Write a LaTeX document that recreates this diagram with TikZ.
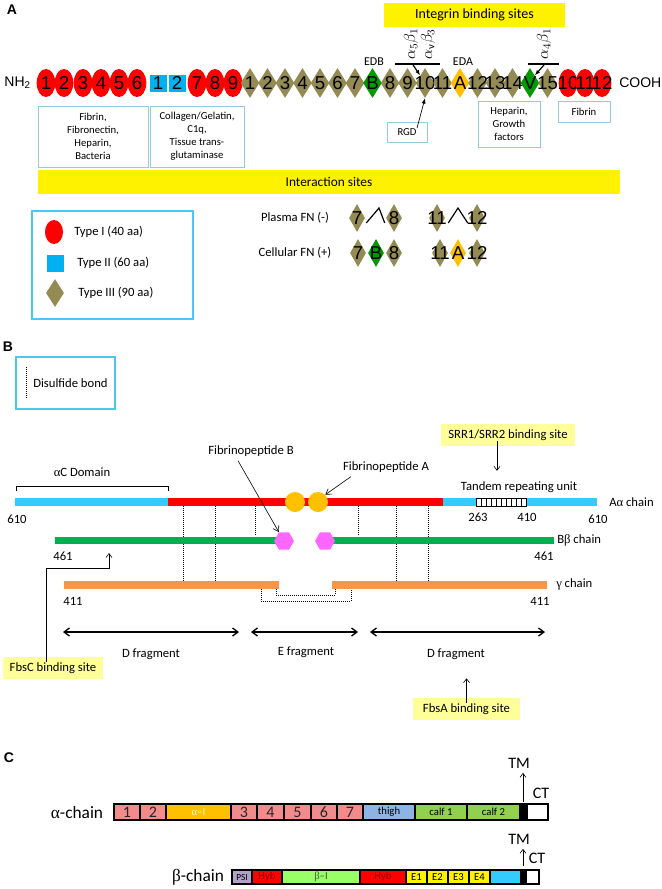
\documentclass[tikz,border=0pt]{standalone}
\usepackage{fontspec}
\setmainfont{Carlito}
\newfontfamily\arialf{Liberation Sans}
\newfontfamily\symf{Liberation Serif}
\usetikzlibrary{shapes.geometric,arrows.meta,backgrounds,calc}
\newcommand\fsz[2]{\fontsize{#1}{#2}\selectfont}
\definecolor{fnred}{RGB}{255,0,0}
\definecolor{fnblue}{RGB}{0,176,240}
\definecolor{fnkhaki}{RGB}{148,138,84}
\definecolor{fngreen}{RGB}{0,153,0}
\definecolor{fnorange}{RGB}{255,192,0}
\definecolor{boxblue}{RGB}{146,205,220}
\definecolor{legblue}{RGB}{75,200,240}
\definecolor{paleyellow}{RGB}{255,255,153}
\definecolor{chaincyan}{RGB}{51,204,255}
\definecolor{chaingreen}{RGB}{0,176,80}
\definecolor{chainorange}{RGB}{247,150,70}
\definecolor{hexpink}{RGB}{255,102,255}
\definecolor{dompink}{RGB}{242,140,140}
\definecolor{thighblue}{RGB}{141,180,226}
\definecolor{calfgreen}{RGB}{146,208,80}
\definecolor{psilav}{RGB}{177,160,199}
\definecolor{bilime}{RGB}{153,255,102}
\begin{document}
\begin{tikzpicture}[x=0.75pt, y=-0.75pt,
    t1/.style={ellipse, fill=fnred, inner sep=0pt, minimum width=14pt, minimum height=21pt},
    t2/.style={rectangle, fill=fnblue, inner sep=0pt, minimum size=12.75pt},
    t3/.style={diamond, fill=fnkhaki, inner sep=0pt, minimum width=14pt, minimum height=22.5pt},
    t3s/.style={t3, minimum width=12pt, minimum height=21pt},
    num/.style={font=\arialf\fsz{14}{14}, inner sep=0pt},
    lbox/.style={draw=boxblue, line width=0.6pt},
    legbox/.style={draw=legblue, line width=1.1pt},
    btxt/.style={font=\fsz{8}{9.75}, align=center, inner sep=0pt, text=black},
    ltxt/.style={font=\fsz{9.5}{11}, inner sep=0pt, text=black},
    lab/.style={font=\arialf\bfseries\fsz{10.5}{12}, inner sep=0pt},
    ptr/.style={-{Latex[length=4pt,width=3pt]}, line width=0.5pt},
    thinptr/.style={-{Straight Barb[length=3pt,width=4.5pt]}, line width=0.45pt},
    frag/.style={{Straight Barb[length=4pt,width=6pt]}-{Straight Barb[length=4pt,width=6pt]}, line width=1pt},
    sbond/.style={densely dotted, line width=0.5pt},
    dom/.style={draw=black, line width=0.8pt},
    cnum/.style={font=\fsz{12}{12}, text=black!85, inner sep=0pt},
    csm/.style={font=\fsz{8}{9}, inner sep=0pt, text=black}]
\useasboundingbox (0,0) rectangle (661,889);
\fill[white] (0,0) rectangle (661,889);

% A
\node[lab] (pa) at (12,10) {A};
\node[font=\arialf\fsz{10.5}{12}, anchor=east, inner sep=0pt] (nh) at (31,83) {NH\textsubscript{2}};
\node[font=\arialf\fsz{10.5}{12}, anchor=west, inner sep=0pt] (cooh) at (619,83) {COOH};
\node[t1, label={[num]center:1}] (e1) at (46,83) {};
\node[t1, label={[num]center:2}] (e2) at (64,83) {};
\node[t1, label={[num]center:3}] (e3) at (83,83) {};
\node[t1, label={[num]center:4}] (e4) at (101,83) {};
\node[t1, label={[num]center:5}] (e5) at (119,83) {};
\node[t1, label={[num]center:6}] (e6) at (137,83) {};
\node[t2, label={[num]center:1}] (s1) at (158,83) {};
\node[t2, label={[num]center:2}] (s2) at (177,83) {};
\node[t1, label={[num]center:7}] (e7) at (197,83) {};
\node[t1, label={[num]center:8}] (e8) at (215,83) {};
\node[t1, label={[num]center:9}] (e9) at (233,83) {};
\node[t3, label={[num]center:1}] (d1) at (250,83) {};
\node[t3, label={[num]center:2}] (d2) at (267.5,83) {};
\node[t3, label={[num]center:3}] (d3) at (285,83) {};
\node[t3, label={[num]center:4}] (d4) at (302.5,83) {};
\node[t3, label={[num]center:5}] (d5) at (320,83) {};
\node[t3, label={[num]center:6}] (d6) at (337.5,83) {};
\node[t3, label={[num]center:7}] (d7) at (355,83) {};
\node[t3, fill=fngreen, label={[num]center:B}] (dB) at (372.5,83) {};
\node[t3, label={[num]center:8}] (d8) at (390,83) {};
\node[t3, label={[num]center:9}] (d9) at (407.5,83) {};
\node[t3, label={[num]center:10}] (d10) at (425,83) {};
\node[t3, label={[num]center:11}] (d11) at (442.5,83) {};
\node[t3, fill=fnorange, label={[num]center:A}] (dA) at (460,83) {};
\node[t3, label={[num]center:12}] (d12) at (477.5,83) {};
\node[t3, label={[num]center:13}] (d13) at (495,83) {};
\node[t3, label={[num]center:14}] (d14) at (512.5,83) {};
\node[t3, fill=fngreen, label={[num]center:V}] (dV) at (530,83) {};
\node[t3, label={[num]center:15}] (d15) at (547.5,83) {};
\node[t1, label={[num]center:10}] (e10) at (568,83) {};
\node[t1, label={[num]center:11}] (e11) at (585,83) {};
\node[t1, label={[num]center:12}] (e12) at (602,83) {};
\begin{scope}[on background layer]
  \draw[line width=0.6pt] (nh.east) -- (cooh.west);
\end{scope}

\fill[yellow] (384,3) rectangle node[font=\fsz{10.5}{12}, text=black] (ibs) {Integrin binding sites} (565,27);
\node[font=\fsz{9}{10}] (edb) at (374,62) {EDB};
\node[font=\fsz{9}{10}] (eda) at (463,62) {EDA};
\node[rotate=90, font=\fsz{12}{12}, inner sep=0pt] (ab1) at (411,44) {$\alpha_5\beta_1$};
\node[rotate=90, font=\fsz{12}{12}, inner sep=0pt] (ab2) at (428,44) {$\alpha_{\mathrm{v}}\beta_3$};
\node[rotate=90, font=\fsz{12}{12}, inner sep=0pt] (ab3) at (544,44) {$\alpha_4\beta_1$};
\draw[line width=0.9pt] (395,64) -- (440,64);
\draw[line width=0.9pt] (528,64) -- (559,64);
\coordinate (ia1) at (413,65);
\coordinate (ia2) at (544,65);
\draw[ptr, line width=0.9pt] (ia1) -- (d10.north west);
\draw[ptr, line width=0.9pt] (ia2) -- (dV.north east);

\draw[lbox] (38,106) rectangle node[btxt] (fb1) {Fibrin,\\Fibronectin,\\Heparin,\\Bacteria} (148,167);
\draw[lbox] (150,106) rectangle node[btxt] (fb2) {Collagen/Gelatin,\\C1q,\\Tissue trans-\\glutaminase} (244,167);
\draw[lbox] (387,122) rectangle node[btxt] (rgd) {RGD} (427,142);
\draw[lbox] (478,101) rectangle node[btxt] (hep) {Heparin,\\Growth\\factors} (540,147);
\draw[lbox] (558,101) rectangle node[btxt] (fib) {Fibrin} (610,122);
\draw[ptr] ($(rgd.north)+(10,0)$) -- (d10.south);

\fill[yellow] (38,170) rectangle node[font=\fsz{10}{12}, text=black] (isite) {Interaction sites} (620,194);

\draw[legbox] (32,211) rectangle (193,319);
\node[t1, minimum width=13.5pt, minimum height=18pt] (lg1) at (54,232) {};
\node[t2] (lg2) at (55,263) {};
\node[t3, minimum width=13.5pt, minimum height=21pt] (lg3) at (55,293) {};
\node[ltxt, anchor=west] (lt1) at (74,232) {Type I (40 aa)};
\node[ltxt, anchor=west] (lt2) at (77,263) {Type II (60 aa)};
\node[ltxt, anchor=west] (lt3) at (78,293) {Type III (90 aa)};

\node[ltxt] (pfn) at (295,218) {Plasma FN (-)};
\node[t3s, label={[num]center:7}] (p7) at (357,218) {};
\node[t3s, label={[num]center:8}] (p8) at (394,218) {};
\node[t3s, label={[num]center:11}] (p11) at (437,218) {};
\node[t3s, label={[num]center:12}] (p12) at (477,218) {};
\draw[line width=0.9pt] ($(p7.east)+(1,5)$) -- (379,208) -- ($(p8.west)+(-1,5)$);
\draw[line width=0.9pt] ($(p11.east)+(3,5)$) -- (458,208) -- ($(p12.west)+(-1,5)$);
\node[ltxt] (cfn) at (295,253) {Cellular FN (+)};
\node[t3s, label={[num]center:7}] (c7) at (358,253) {};
\node[t3s, fill=fngreen, label={[num]center:B}] (cB) at (376,253) {};
\node[t3s, label={[num]center:8}] (c8) at (394,253) {};
\node[t3s, label={[num]center:11}] (c11) at (440,253) {};
\node[t3s, fill=fnorange, label={[num]center:A}] (cA) at (458,253) {};
\node[t3s, label={[num]center:12}] (c12) at (477,253) {};

% B
\node[lab] (pb) at (8,347) {B};
\draw[legbox] (16,357) rectangle (115,409);
\draw[sbond] (26,367) -- (26,398);
\node[ltxt, anchor=west] (dsb) at (33,383) {Disulfide bond};

\fill[paleyellow] (441,424) rectangle node[ltxt] (srr) {SRR1/SRR2 binding site} (575,446);
\draw[thinptr] ([xshift=-8.25pt]srr.south) -- ++(0,30);
\node[ltxt] (tru) at (519,487) {Tandem repeating unit};
\node[ltxt] (fpb) at (251,451) {Fibrinopeptide B};
\node[ltxt] (fpa) at (386,467) {Fibrinopeptide A};
\node[ltxt] (acd) at (82,472) {{\symf α}C Domain};
\draw[line width=0.4pt] (16,491) -- (16,486) -- (168,486) -- (168,491);

\foreach \sx in {183,215,396,428} \draw[sbond] (\sx,506) -- (\sx,581);
\foreach \sx in {255,358} \draw[sbond] (\sx,506) -- (\sx,536);
\draw[sbond] (276,589) -- (276,595) -- (335,595) -- (335,589);
\draw[sbond] (261,589) -- (261,601) -- (351,601) -- (351,589);

\fill[chaincyan] (15,498) rectangle (168,506);
\fill[fnred] (168,498) rectangle (443,506);
\fill[chaincyan] (443,498) rectangle (597,506);
\draw[fill=white, line width=0.5pt] (476,498) rectangle (526,506);
\foreach \hx in {481,486,...,521} \draw[line width=0.5pt] (\hx,498) -- (\hx,506);
\node[circle, fill=fnorange, inner sep=0pt, minimum size=15pt] (ca1) at (295,502) {};
\node[circle, fill=fnorange, inner sep=0pt, minimum size=15pt] (ca2) at (318,502) {};
\node[ltxt, anchor=west] (aac) at (609,502) {A{\symf α} chain};
\node[ltxt] (n1) at (17,519) {610};
\node[ltxt] (n2) at (478,517) {263};
\node[ltxt] (n3) at (527,517) {410};
\node[ltxt] (n4) at (598,519) {610};

\fill[chaingreen] (55,536.5) rectangle (276,544);
\fill[chaingreen] (333,536.5) rectangle (554,544);
\node[regular polygon, regular polygon sides=6, fill=hexpink, inner sep=0pt, minimum size=15pt] (hb1) at (284,541) {};
\node[regular polygon, regular polygon sides=6, fill=hexpink, inner sep=0pt, minimum size=15pt] (hb2) at (325,541) {};
\node[ltxt, anchor=west] (bbc) at (557,540) {B{\symf β} chain};
\node[ltxt] (n5) at (63,556) {461};
\node[ltxt] (n6) at (544,556) {461};

\fill[chainorange] (64,581) rectangle (279,589);
\fill[chainorange] (332,581) rectangle (547,589);
\node[ltxt, anchor=west] (gc) at (556,584) {{\symf γ} chain};
\node[ltxt] (n7) at (73,601) {411};
\node[ltxt] (n8) at (540,601) {411};

\draw[thinptr, -{Straight Barb[length=4pt,width=5pt]}] ($(fpb.south)+(-13,4)$) -- (hb1.120);
\draw[thinptr, -{Straight Barb[length=4pt,width=5pt]}] ($(fpa.south west)+(8,4)$) -- (ca2.45);

\coordinate (fl1) at (63,632);
\coordinate (fl2) at (239,632);
\coordinate (fm1) at (251,632);
\coordinate (fm2) at (358,632);
\coordinate (fr1) at (370,632);
\coordinate (fr2) at (545,632);
\draw[frag] (fl1) -- (fl2);
\draw[frag] (fm1) -- (fm2);
\draw[frag] (fr1) -- (fr2);
\node[ltxt] (dfl) at (151,654) {D fragment};
\node[ltxt] (efm) at (306,652) {E fragment};
\node[ltxt] (dfr) at (456,654) {D fragment};

\fill[paleyellow] (3,657) rectangle node[ltxt] (fbsc) {FbsC binding site} (103,679);
\draw[thinptr] ([xshift=-5.25pt]fbsc.north) |- (109,568) -- (109,553);
\fill[paleyellow] (413,698) rectangle node[ltxt] (fbsa) {FbsA binding site} (520,720);
\draw[thinptr] (fbsa.north) -- ++(0,-25);

% C
\node[lab] (pc) at (9,758) {C};
\node[font=\fsz{12}{12}] (tma) at (519,763) {TM};
\node[font=\fsz{12}{12}] (cta) at (541,793) {CT};
\coordinate (tma0) at (523,802);
\draw[thinptr] (tma0) -- (tma0 |- tma.south);
\node[font=\fsz{13}{13}] (ach) at (77,813) {{\symf α}-chain};
\draw[dom, fill=dompink] (114,804) rectangle node[cnum] (a1) {1} (140,820);
\draw[dom, fill=dompink] (140,804) rectangle node[cnum] (a2) {2} (166,820);
\draw[dom, fill=fnorange] (166,804) rectangle node[csm, text=yellow!20] (aI) {{\symf α}–I} (231,820);
\draw[dom, fill=dompink] (231,804) rectangle node[cnum] (a3) {3} (257,820);
\draw[dom, fill=dompink] (257,804) rectangle node[cnum] (a4) {4} (284,820);
\draw[dom, fill=dompink] (284,804) rectangle node[cnum] (a5) {5} (311,820);
\draw[dom, fill=dompink] (311,804) rectangle node[cnum] (a6) {6} (337,820);
\draw[dom, fill=dompink] (337,804) rectangle node[cnum] (a7) {7} (363,820);
\draw[dom, fill=thighblue] (363,804) rectangle node[csm] (ath) {thigh} (415,820);
\draw[dom, fill=calfgreen] (415,804) rectangle node[csm] (ac1) {calf 1} (467,820);
\draw[dom, fill=calfgreen] (467,804) rectangle node[csm] (ac2) {calf 2} (520,820);
\draw[dom, fill=black] (520,804) rectangle (527,820);
\draw[dom, fill=white] (527,804) rectangle (548,820);

\node[font=\fsz{12}{12}] (tmb) at (519,839) {TM};
\node[font=\fsz{12}{12}] (ctb) at (537,858) {CT};
\coordinate (tmb0) at (523,866);
\draw[thinptr] (tmb0) -- (tmb0 |- tmb.south);
\node[font=\fsz{13}{13}] (bch) at (198,877) {{\symf β}-chain};
\draw[dom, fill=psilav] (232,870) rectangle node[csm, font=\fsz{7}{8}] (bpsi) {PSI} (252,884);
\draw[dom, fill=fnred] (252,870) rectangle node[csm, text=red!50!black] (bh1) {Hyb} (282,884);
\draw[dom, fill=bilime] (282,870) rectangle node[csm, text=black!70] (bI) {{\symf β}–I} (360,884);
\draw[dom, fill=fnred] (360,870) rectangle node[csm, text=red!50!black] (bh2) {Hyb} (406,884);
\draw[dom, fill=yellow] (406,870) rectangle node[csm] (be1) {E1} (427,884);
\draw[dom, fill=yellow] (427,870) rectangle node[csm] (be2) {E2} (448,884);
\draw[dom, fill=yellow] (448,870) rectangle node[csm] (be3) {E3} (469,884);
\draw[dom, fill=yellow] (469,870) rectangle node[csm] (be4) {E4} (490,884);
\draw[dom, fill=chaincyan] (490,870) rectangle (521,884);
\draw[dom, fill=black] (521,870) rectangle (526,884);
\draw[dom, fill=white] (526,870) rectangle (539,884);
\end{tikzpicture}
\end{document}
